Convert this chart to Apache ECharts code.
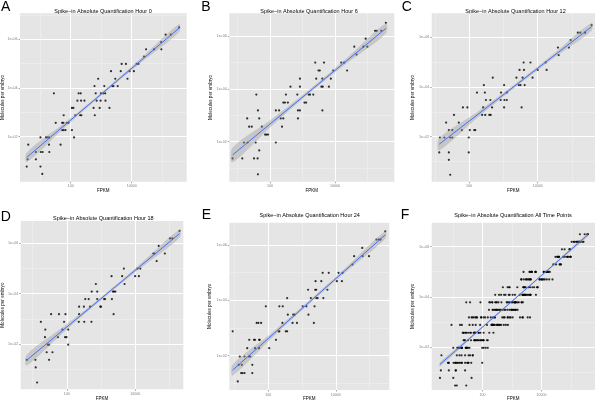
<!DOCTYPE html>
<html><head><meta charset="utf-8">
<script src="https://cdn.jsdelivr.net/npm/echarts@6/dist/echarts.min.js"></script>
<style>html,body{margin:0;padding:0;background:#fff}#c{width:600px;height:401px}</style>
</head><body><div id="c"></div>
<script>
// ---------- DATA (log10 units: [log10 FPKM, log10 molecules per embryo]) ----------
const panelTitles = [
  'Spike\u2212in Absolute Quantification Hour 0',
  'Spike\u2212in Absolute Quantification Hour 6',
  'Spike\u2212in Absolute Quantification Hour 12',
  'Spike\u2212in Absolute Quantification Hour 18',
  'Spike\u2212in Absolute Quantification Hour 24',
  'Spike\u2212in Absolute Quantification All Time Points'
];
const panelLetters = ['A','B','C','D','E','F'];
const xAxisName = 'FPKM';
const yAxisName = 'Molecules per embryo';
const xTickValues = [2, 4];
const xTickLabels = ['100', '10000'];
const yTickValues = [2, 4, 6];
const yTickLabels = ['1e+02', '1e+04', '1e+06'];
const xMinorValues = [1, 3, 5];
const yMinorValues = [1, 3, 5, 7];

const hour0 = [[5.55,6.49],[5.11,6.19],[5.28,6.19],[4.96,5.89],[4.47,5.59],[4.73,5.59],[4.97,5.59],[4.40,5.29],
[3.67,4.99],[3.81,4.99],[4.16,4.99],[4.22,4.99],[3.32,4.69],[3.64,4.69],[3.93,4.69],[4.07,4.69],
[2.90,4.38],[3.46,4.38],[3.86,4.38],[2.78,4.08],[3.10,4.08],[3.36,4.08],[3.40,4.08],[3.54,4.08],
[1.45,3.78],[2.26,3.78],[2.33,3.78],[2.82,3.78],[2.99,3.78],[3.07,3.78],[3.13,3.78],
[2.22,3.48],[2.34,3.48],[2.45,3.48],[2.85,3.48],[2.98,3.48],[3.14,3.48],
[2.04,3.18],[2.09,3.18],[2.75,3.18],[2.95,3.18],[3.27,3.18],
[1.77,2.88],[2.15,2.88],[2.31,2.88],[2.35,2.88],[2.79,2.88],
[1.51,2.57],[1.72,2.57],[1.76,2.57],[1.87,2.57],[1.93,2.57],
[1.72,2.27],[1.77,2.27],[1.83,2.27],[2.04,2.27],
[1.01,1.97],[1.19,1.97],[1.23,1.97],[1.29,1.97],[2.11,1.97],
[0.61,1.67],[1.29,1.67],[1.67,1.67],[0.86,1.37],[1.02,1.37],[1.08,1.37],[1.30,1.37],
[0.59,1.07],[0.86,1.07],[0.56,0.77],[1.01,0.77],[1.07,0.47]];

const hour6 = [[5.56,6.49],[5.23,6.19],[5.28,6.19],[5.42,6.19],[4.94,5.89],[4.59,5.59],[4.87,5.59],[4.99,5.59],[4.66,5.29],
[3.39,4.99],[3.66,4.99],[4.19,4.99],[4.28,4.99],[3.49,4.69],[3.53,4.69],[3.94,4.69],[4.37,4.69],
[2.92,4.38],[3.42,4.38],[3.61,4.38],[3.87,4.38],[2.63,4.08],[2.92,4.08],[3.58,4.08],[3.62,4.08],[3.81,4.08],
[1.58,3.78],[2.49,3.78],[2.84,3.78],[3.19,3.78],[3.23,3.78],[3.33,3.78],
[2.41,3.48],[2.46,3.48],[2.55,3.48],[3.06,3.48],[3.11,3.48],
[1.63,3.18],[2.18,3.18],[2.28,3.18],[2.86,3.18],[2.92,3.18],[3.61,3.18],
[1.30,2.88],[1.67,2.88],[2.33,2.88],[2.41,2.88],[2.86,2.88],
[1.36,2.57],[1.44,2.57],[1.75,2.57],[2.37,2.57],[1.85,2.27],[1.89,2.27],[1.94,2.27],
[1.20,1.97],[1.31,1.97],[1.56,1.97],[2.18,1.97],[1.67,1.67],
[0.85,1.37],[1.15,1.37],[1.51,1.37],[1.62,1.37],[1.63,0.77]];

const hour12 = [[5.57,6.49],[5.17,6.19],[5.24,6.19],[5.38,6.19],[4.96,5.89],[4.59,5.59],[4.91,5.59],[4.61,5.29],
[3.59,4.99],[3.79,4.99],[4.23,4.99],[3.47,4.69],[3.60,4.69],[4.00,4.69],[4.26,4.69],
[2.69,4.38],[3.38,4.38],[3.56,4.38],[3.85,4.38],[2.43,4.08],[3.02,4.08],[3.45,4.08],[3.50,4.08],[3.62,4.08],
[2.23,3.78],[2.46,3.78],[2.93,3.78],[3.10,3.78],[2.49,3.48],[2.62,3.48],[2.92,3.48],[3.03,3.48],[3.10,3.48],
[1.82,3.18],[1.95,3.18],[2.41,3.18],[2.67,3.18],[3.02,3.18],[3.53,3.18],
[1.56,2.88],[2.38,2.88],[2.47,2.88],[2.59,2.88],[2.63,2.88],[1.33,2.57],[1.70,2.57],
[1.41,2.27],[1.51,2.27],[1.79,2.27],[2.02,2.27],[2.15,2.27],[2.18,2.27],
[1.15,1.97],[1.28,1.97],[1.45,1.97],[1.51,1.97],[1.99,1.97],
[1.13,1.37],[1.41,1.37],[1.99,1.37],[1.41,1.07],[1.45,0.47]];

const hour18 = [[5.30,6.49],[5.02,6.19],[5.09,6.19],[4.69,5.89],[4.53,5.59],[4.57,5.59],[4.87,5.59],[4.63,5.29],
[3.67,4.99],[4.07,4.99],[4.15,4.99],[3.31,4.69],[3.62,4.69],[4.00,4.69],[4.11,4.69],[2.85,4.38],[3.69,4.38],
[2.73,4.08],[2.89,4.08],[3.35,4.08],[3.38,4.08],[3.42,4.08],
[2.54,3.78],[2.64,3.78],[2.89,3.78],[3.09,3.78],[3.12,3.78],[3.32,3.78],
[2.36,3.48],[2.50,3.48],[2.68,3.48],[2.98,3.48],[3.00,3.48],
[1.54,3.18],[1.77,3.18],[1.96,3.18],[2.36,3.18],[3.37,3.18],
[1.24,2.88],[1.92,2.88],[2.35,2.88],[2.51,2.88],[2.72,2.88],[1.37,2.57],[1.87,2.57],[2.04,2.57],
[1.36,2.27],[1.74,2.27],[1.95,2.27],[1.99,2.27],[1.44,1.97],[1.48,1.97],[2.04,1.97],
[1.41,1.67],[1.58,1.67],[0.83,1.37],[1.08,1.37],[1.48,1.37],[1.09,1.07],[1.13,0.47]];

const hour24 = [[5.46,6.49],[5.20,6.19],[5.27,6.19],[5.32,6.19],[4.78,5.89],[4.54,5.59],[4.79,5.59],[4.98,5.59],[4.49,5.29],
[3.61,4.99],[3.79,4.99],[4.08,4.99],[4.20,4.99],[3.40,4.69],[3.57,4.69],[4.03,4.69],[4.18,4.69],
[3.18,4.38],[3.39,4.38],[3.42,4.38],[3.75,4.38],[2.56,4.08],[3.26,4.08],[3.42,4.08],[3.46,4.08],[3.63,4.08],
[1.93,3.78],[2.33,3.78],[2.43,3.78],[3.02,3.78],[3.13,3.78],[3.37,3.78],
[2.58,3.48],[2.74,3.48],[2.78,3.48],[3.19,3.48],
[1.66,3.18],[1.71,3.18],[1.79,3.18],[2.42,3.18],[2.72,3.18],[2.85,3.18],[3.35,3.18],
[0.95,2.88],[2.31,2.88],[2.33,2.88],[2.52,2.88],[2.56,2.88],
[1.44,2.57],[1.58,2.57],[1.61,2.57],[1.73,2.57],[1.75,2.57],[2.23,2.57],
[1.38,2.27],[1.61,2.27],[1.73,2.27],[2.03,2.27],[1.16,1.97],[1.30,1.97],[1.43,1.97],[1.47,1.97],
[1.13,1.67],[1.22,1.67],[1.53,1.67],[1.20,1.37],[1.24,1.37],[1.30,1.37],[1.53,1.37],[1.10,1.07]];

const allTimePoints = [].concat(hour0, hour6, hour12, hour18, hour24);

// regression fits: [log10 FPKM, fit]
const fit0  = [[0.56,1.15],[5.55,6.46]];
const fit6  = [[0.85,1.50],[5.56,6.28]];
const fit12 = [[1.13,1.70],[5.57,6.43]];
const fit18 = [[0.83,1.36],[5.30,6.38]];
const fit24 = [[0.95,1.48],[5.46,6.36]];
const fitAll = [[0.56,1.31],[5.57,6.47]];
// confidence bands: [log10 FPKM, lower, upper]
const band0  = [[0.56,0.95,1.35],[1.81,2.38,2.58],[3.06,3.75,3.87],[4.30,5.04,5.22],[5.55,6.29,6.63]];
const band6  = [[0.85,1.22,1.78],[2.03,2.57,2.83],[3.21,3.83,3.97],[4.38,4.98,5.18],[5.56,6.09,6.47]];
const band12 = [[1.13,1.45,1.95],[2.24,2.76,3.00],[3.35,3.99,4.13],[4.46,5.16,5.34],[5.57,6.27,6.59]];
const band18 = [[0.83,1.14,1.58],[1.95,2.51,2.73],[3.07,3.81,3.93],[4.18,5.03,5.21],[5.30,6.22,6.54]];
const band24 = [[0.95,1.28,1.68],[2.08,2.60,2.80],[3.21,3.87,3.99],[4.33,5.06,5.22],[5.46,6.22,6.50]];
const bandAll = [[0.56,1.23,1.39],[1.81,2.56,2.64],[3.07,3.87,3.93],[4.32,5.14,5.22],[5.57,6.40,6.54]];

// ---------- LAYOUT ----------
const layout = [
  {left:20,    top:13.3,  width:166.7, height:168.4, xr:[0.34,5.80], yr:[0.15,7.07], tx:103,   ty:11,    lx:1,     ly:7.3,  nx:3,   fy:190.5},
  {left:229.3, top:13.3,  width:165,   height:168.4, xr:[0.75,5.82], yr:[0.49,6.85], tx:309,   ty:11,    lx:201.3, ly:7,    nx:211, fy:190.5},
  {left:431.7, top:13.3,  width:163.3, height:168.4, xr:[0.91,5.67], yr:[0.19,6.97], tx:515.5, ty:11,    lx:401.7, ly:7.3,  nx:413, fy:190.5},
  {left:20.7,  top:221,   width:162.6, height:168.3, xr:[0.65,5.41], yr:[0.20,6.88], tx:103.3, ty:218.5, lx:0.7,   ly:217.3,nx:3,   fy:399},
  {left:229.3, top:222.7, width:160,   height:167.3, xr:[0.85,5.58], yr:[0.76,6.80], tx:309.7, ty:215,   lx:201.7, ly:215,  nx:210, fy:399},
  {left:431.7, top:222.7, width:163.3, height:167.3, xr:[0.28,5.81], yr:[0.29,6.95], tx:513,   ty:215,   lx:400.7, ly:215,  nx:413, fy:399}
];

const panels = [
  {pts:hour0, fit:fit0, band:band0},
  {pts:hour6, fit:fit6, band:band6},
  {pts:hour12, fit:fit12, band:band12},
  {pts:hour18, fit:fit18, band:band18},
  {pts:hour24, fit:fit24, band:band24},
  {pts:allTimePoints, fit:fitAll, band:bandAll}
];

const FONT = '"Liberation Sans", Arial, Helvetica, sans-serif';
const lookup = (vals, labels) => v => { const i = vals.findIndex(t => Math.abs(t - v) < 1e-6); return i >= 0 ? labels[i] : ''; };

const grids = [], xAxes = [], yAxes = [], series = [], graphics = [];
panels.forEach((pn, p) => {
  const L = layout[p];
  grids.push({left:L.left, top:L.top, width:L.width, height:L.height, show:true, backgroundColor:'#E5E5E5', borderWidth:0});
  xAxes.push({type:'value', gridIndex:p, min:L.xr[0], max:L.xr[1], position:'bottom',
    axisLine:{show:false},
    axisTick:{show:true, length:1.5, lineStyle:{color:'#4D4D4D', width:0.5}, customValues:xTickValues},
    axisLabel:{show:true, customValues:xTickValues, formatter:lookup(xTickValues, xTickLabels), fontSize:3.6, color:'#7F7F7F', margin:2.5, fontFamily:FONT},
    splitLine:{show:true, lineStyle:{color:'#FFFFFF', width:1}}});
  xAxes.push({type:'value', gridIndex:p, min:L.xr[0], max:L.xr[1], position:'top',
    axisLine:{show:false}, axisTick:{show:false, customValues:xMinorValues},
    axisLabel:{show:false, customValues:xMinorValues},
    splitLine:{show:true, lineStyle:{color:'#F2F2F2', width:0.5}}});
  yAxes.push({type:'value', gridIndex:p, min:L.yr[0], max:L.yr[1], position:'left',
    axisLine:{show:false},
    axisTick:{show:true, length:1.5, lineStyle:{color:'#4D4D4D', width:0.5}, customValues:yTickValues},
    axisLabel:{show:true, customValues:yTickValues, formatter:lookup(yTickValues, yTickLabels), fontSize:3.6, color:'#7F7F7F', margin:2.5, fontFamily:FONT},
    splitLine:{show:true, lineStyle:{color:'#FFFFFF', width:1}}});
  yAxes.push({type:'value', gridIndex:p, min:L.yr[0], max:L.yr[1], position:'right',
    axisLine:{show:false}, axisTick:{show:false, customValues:yMinorValues},
    axisLabel:{show:false, customValues:yMinorValues},
    splitLine:{show:true, lineStyle:{color:'#F2F2F2', width:0.5}}});

  series.push({type:'scatter', xAxisIndex:2*p, yAxisIndex:2*p, data:pn.pts, symbol:'circle', symbolSize:2.2,
    itemStyle:{color:'#000000'}, silent:true, z:2});
  const band = pn.band;
  series.push({type:'custom', xAxisIndex:2*p, yAxisIndex:2*p, data:band, encode:{x:0, y:[1,2]}, silent:true, z:3,
    renderItem:(params, api) => {
      if (params.dataIndex !== 0) return null;
      const up = band.map(r => api.coord([r[0], r[2]]));
      const lo = band.map(r => api.coord([r[0], r[1]])).reverse();
      return {type:'polygon', shape:{points:up.concat(lo), smooth:0.3}, style:{fill:'rgba(153,153,153,0.4)'}};
    }});
  series.push({type:'line', xAxisIndex:2*p, yAxisIndex:2*p, data:pn.fit, symbol:'none', silent:true,
    lineStyle:{color:'#3366FF', width:0.9}, z:4});

  // texts
  graphics.push({type:'text', x:L.tx, y:L.ty, style:{text:panelTitles[p], font:'5.5px ' + FONT, fill:'#000', textAlign:'center', textVerticalAlign:'middle'}});
  graphics.push({type:'text', x:L.lx, y:L.ly, style:{text:panelLetters[p], font:'14px ' + FONT, fill:'#000', textAlign:'left', textVerticalAlign:'middle'}});
  graphics.push({type:'text', x:L.left + L.width/2, y:L.fy, style:{text:xAxisName, font:'4.5px ' + FONT, fill:'#000', textAlign:'center', textVerticalAlign:'middle'}});
  graphics.push({type:'text', x:L.nx, y:L.top + L.height/2, rotation:Math.PI/2, style:{text:yAxisName, font:'4.6px ' + FONT, fill:'#000', textAlign:'center', textVerticalAlign:'middle'}});
});

const chart = echarts.init(document.getElementById('c'), null, {renderer:'canvas', width:600, height:401});
chart.setOption({
  animation:false,
  backgroundColor:'#FFFFFF',
  grid:grids, xAxis:xAxes, yAxis:yAxes, series:series,
  graphic:graphics
});
</script></body></html>
